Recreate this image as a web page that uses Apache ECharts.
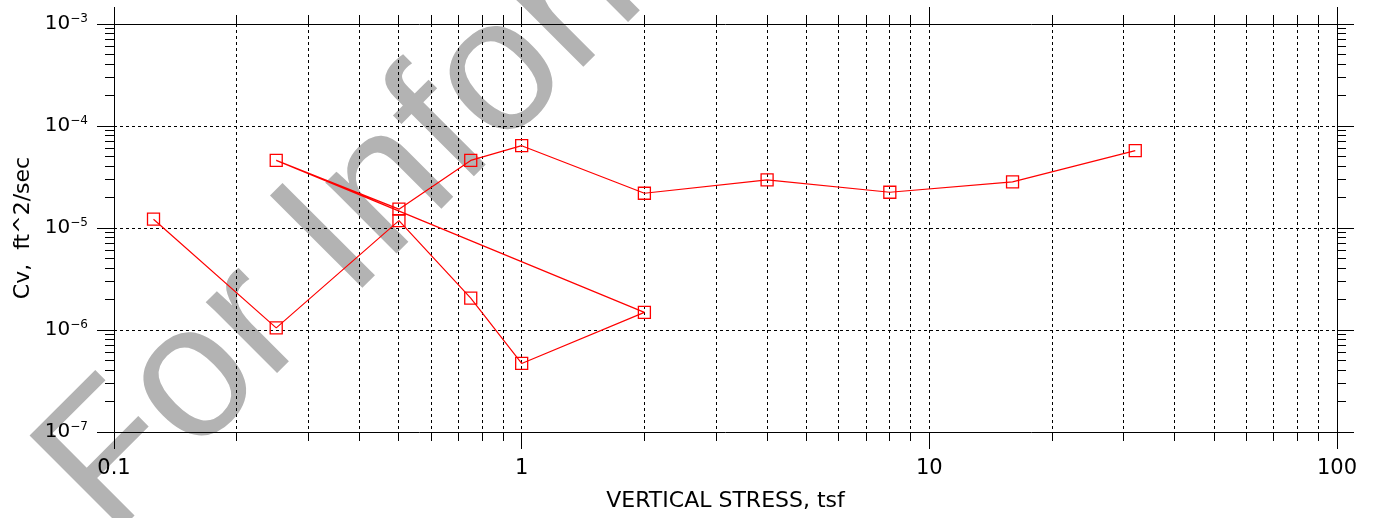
<!DOCTYPE html>
<html>
<head>
<meta charset="utf-8">
<title>Cv vs Vertical Stress</title>
<script src="https://cdn.jsdelivr.net/npm/echarts@6/dist/echarts.min.js"></script>
<style>
  html, body { margin: 0; padding: 0; background: #fff; }
  #chart { width: 1374px; height: 518px; }
</style>
</head>
<body>
<div id="chart"></div>
<script>
// Consolidation test: coefficient of consolidation per load increment
// (load to 2 tsf, unload to 0.25 tsf, reload to 32 tsf)
const stress = [0.125, 0.25, 0.5, 0.75, 1, 2, 0.25, 0.5, 0.75, 1, 2, 4, 8, 16, 32];
const cv = [1.22e-5, 1.05e-6, 1.18e-5, 2.05e-6, 4.7e-7, 1.49e-6, 4.6e-5, 1.53e-5, 4.6e-5, 6.41e-5, 2.19e-5, 2.96e-5, 2.24e-5, 2.83e-5, 5.73e-5];

// Axis ranges and tick labels
const X_MIN = 0.1, X_MAX = 100;
const Y_MIN = 1e-7, Y_MAX = 1e-3;
const xTickLabels = ['0.1', '1', '10', '100'];
const yTickBase = '10';
const yTickExponents = ['\u22127', '\u22126', '\u22125', '\u22124', '\u22123'];
const xMinor = [0.2, 0.3, 0.4, 0.5, 0.6, 0.7, 0.8, 0.9, 2, 3, 4, 5, 6, 7, 8, 9, 20, 30, 40, 50, 60, 70, 80, 90];
const yMinor = [];
[1e-7, 1e-6, 1e-5, 1e-4].forEach(function (d) {
  for (let k = 2; k <= 9; k++) yMinor.push(+(d * k).toPrecision(3));
});

const FONT = '"DejaVu Sans", "Liberation Sans", sans-serif';
const INK = '#000';
const DASH = [3, 3];
const MINOR_LEN = 9;
const MAJOR_LEN = 17;

const chart = echarts.init(document.getElementById('chart'), null, { renderer: 'canvas' });

function crisp(v) { return Math.round(v - 0.5) + 0.5; }

// Minor vertical grid lines at 2..9 of each decade, with outward ticks top and bottom
function renderMinorX(params, api) {
  const v = api.value(0);
  const top = api.coord([v, Y_MAX]);
  const bot = api.coord([v, Y_MIN]);
  const x = crisp(top[0]);
  const yt = Math.round(top[1]), yb = Math.round(bot[1]);
  return {
    type: 'group',
    children: [
      { type: 'line', shape: { x1: x, y1: yt, x2: x, y2: yb }, style: { stroke: INK, lineWidth: 1, lineDash: DASH } },
      { type: 'line', shape: { x1: x, y1: yb, x2: x, y2: yb + MINOR_LEN }, style: { stroke: INK, lineWidth: 1 } },
      { type: 'line', shape: { x1: x, y1: yt, x2: x, y2: yt - MINOR_LEN }, style: { stroke: INK, lineWidth: 1 } }
    ]
  };
}

// Minor ticks on the left and right axes
function renderMinorY(params, api) {
  const v = api.value(1);
  const l = api.coord([X_MIN, v]);
  const r = api.coord([X_MAX, v]);
  const y = crisp(l[1]);
  const xl = Math.round(l[0]), xr = Math.round(r[0]);
  return {
    type: 'group',
    children: [
      { type: 'line', shape: { x1: xl - MINOR_LEN, y1: y, x2: xl, y2: y }, style: { stroke: INK, lineWidth: 1 } },
      { type: 'line', shape: { x1: xr, y1: y, x2: xr + MINOR_LEN, y2: y }, style: { stroke: INK, lineWidth: 1 } }
    ]
  };
}

const axisLine = { show: true, onZero: false, lineStyle: { color: INK, width: 1 } };
const majorTick = { show: true, inside: false, length: MAJOR_LEN, lineStyle: { color: INK, width: 1 } };
const noMinor = { show: false };

const option = {
  animation: false,
  backgroundColor: '#fff',
  grid: { left: 114, right: 37, top: 24, bottom: 86, containLabel: false },
  graphic: {
    elements: [{
      type: 'text',
      x: 74,
      y: 502,
      rotation: Math.PI / 4,
      z: -100,
      silent: true,
      style: {
        text: 'For Information Only',
        font: '190px "Liberation Sans", Arial, sans-serif',
        fill: '#b3b3b3',
        align: 'left',
        verticalAlign: 'middle'
      }
    }]
  },
  xAxis: [{
    type: 'log',
    logBase: 10,
    min: X_MIN,
    max: X_MAX,
    position: 'bottom',
    name: 'VERTICAL STRESS, tsf',
    nameLocation: 'middle',
    nameGap: 58,
    nameTextStyle: { fontFamily: FONT, fontSize: 22, color: INK },
    axisLine: axisLine,
    axisTick: majorTick,
    axisLabel: {
      margin: 26,
      fontFamily: FONT,
      fontSize: 21,
      color: INK,
      formatter: function (v, i) { return xTickLabels[i] !== undefined ? xTickLabels[i] : ''; }
    },
    splitLine: { show: true, lineStyle: { color: INK, width: 1, type: DASH } },
    minorTick: noMinor,
    minorSplitLine: noMinor
  }, {
    type: 'log',
    logBase: 10,
    min: X_MIN,
    max: X_MAX,
    position: 'top',
    axisLine: axisLine,
    axisTick: majorTick,
    axisLabel: { show: false },
    splitLine: { show: false },
    minorTick: noMinor,
    minorSplitLine: noMinor
  }],
  yAxis: [{
    type: 'log',
    logBase: 10,
    min: Y_MIN,
    max: Y_MAX,
    position: 'left',
    name: 'Cv,  ft^2/sec',
    nameLocation: 'middle',
    nameRotate: 90,
    nameGap: 80,
    nameTextStyle: { fontFamily: FONT, fontSize: 22, color: INK },
    axisLine: axisLine,
    axisTick: majorTick,
    axisLabel: {
      margin: 26,
      formatter: function (v, i) {
        return '{b|' + yTickBase + '}{s|' + (yTickExponents[i] || '') + '}';
      },
      rich: {
        b: { fontFamily: FONT, fontSize: 20, lineHeight: 22, color: INK },
        s: { fontFamily: FONT, fontSize: 12, lineHeight: 12, color: INK, verticalAlign: 'top' }
      }
    },
    splitLine: { show: true, lineStyle: { color: INK, width: 1, type: DASH } },
    minorTick: noMinor,
    minorSplitLine: noMinor
  }, {
    type: 'log',
    logBase: 10,
    min: Y_MIN,
    max: Y_MAX,
    position: 'right',
    axisLine: axisLine,
    axisTick: majorTick,
    axisLabel: { show: false },
    splitLine: { show: false },
    minorTick: noMinor,
    minorSplitLine: noMinor
  }],
  series: [{
    type: 'custom',
    name: 'xMinor',
    xAxisIndex: 0,
    yAxisIndex: 0,
    silent: true,
    clip: false,
    z: 1,
    renderItem: renderMinorX,
    data: xMinor.map(function (v) { return [v, Y_MIN]; })
  }, {
    type: 'custom',
    name: 'yMinor',
    xAxisIndex: 0,
    yAxisIndex: 0,
    silent: true,
    clip: false,
    z: 1,
    renderItem: renderMinorY,
    data: yMinor.map(function (v) { return [X_MIN, v]; })
  }, {
    type: 'line',
    name: 'Cv',
    xAxisIndex: 0,
    yAxisIndex: 0,
    z: 5,
    data: stress.map(function (s, i) { return [s, cv[i]]; }),
    symbol: 'rect',
    symbolSize: 12,
    showSymbol: true,
    showAllSymbol: true,
    lineStyle: { color: '#ff0000', width: 1.2 },
    itemStyle: { color: 'rgba(255,255,255,0)', borderColor: '#ff0000', borderWidth: 1.3 },
    emphasis: { disabled: true }
  }]
};

chart.setOption(option);
</script>
</body>
</html>
